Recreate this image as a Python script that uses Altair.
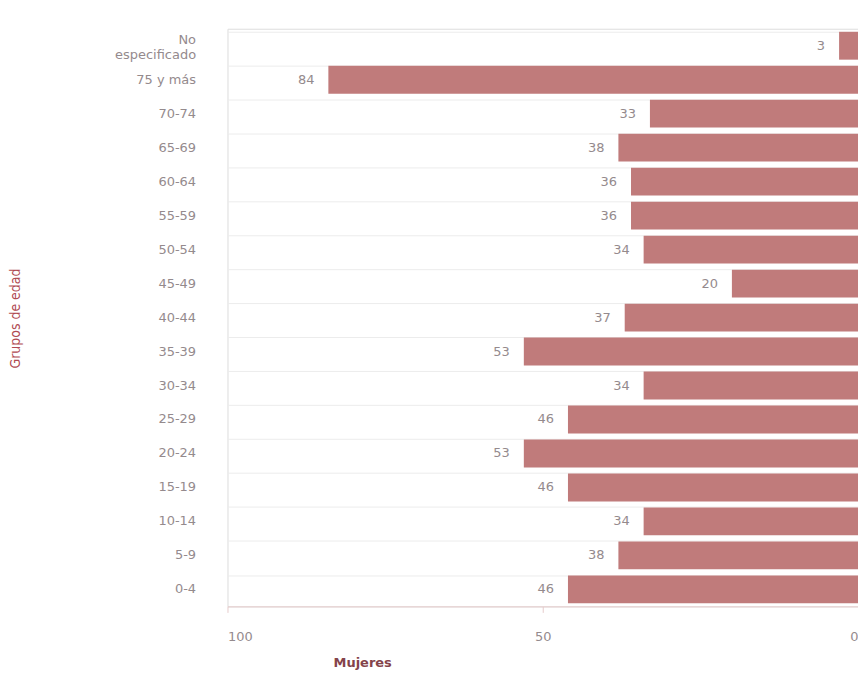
import altair as alt
import pandas as pd

grupos = ["No especificado", "75 y más", "70-74", "65-69", "60-64", "55-59", "50-54",
          "45-49", "40-44", "35-39", "30-34", "25-29", "20-24", "15-19", "10-14", "5-9", "0-4"]
mujeres = [3, 84, 33, 38, 36, 36, 34, 20, 37, 53, 34, 46, 53, 46, 34, 38, 46]
x_ticks = [100, 50, 0]

df = pd.DataFrame({"grupo": grupos, "mujeres": mujeres})

FONT = "DejaVu Sans"
NARROW = "'DejaVu Sans Condensed', 'Liberation Sans Narrow', 'Roboto Condensed', sans-serif"
BAR = "#c07b7b"

y_enc = alt.Y(
    "grupo:N", sort=grupos, title="Grupos de edad",
    scale=alt.Scale(paddingInner=0.18, paddingOuter=0.09),
    axis=alt.Axis(
        ticks=False, domain=False, grid=True, bandPosition=0,
        gridColor="#ececec", gridWidth=1,
        labelFont=FONT, labelFontSize=13, labelColor="#948a8d", labelPadding=32,
        labelExpr="datum.label == 'No especificado' ? ['No', 'especificado'] : datum.label",
        labelLineHeight=15,
        labelOffset={"condition": {"test": "datum.value == 'No especificado'", "value": -6}, "value": 0},
        titleFont=NARROW, titleFontSize=14, titleFontWeight="normal",
        titleColor="#b04a52", titleAngle=-90, titleX=-212, titleY=290,
        titleAlign="center", titleBaseline="middle",
    ),
)

x_enc = alt.X(
    "mujeres:Q", title="Mujeres",
    scale=alt.Scale(domain=[0, 100], reverse=True, nice=False),
    axis=alt.Axis(
        values=x_ticks, grid=False, domainColor="#e6cccc", tickColor="#e6cccc",
        tickSize=6, labelFont=FONT, labelFontSize=13, labelColor="#948a8d",
        labelPadding=18,
        titleFont=FONT, titleFontSize=13, titleFontWeight="bold", titleColor="#84434a",
        titleX=135, titleY=56, titleAlign="center", titleBaseline="middle",
    ),
)

bars = alt.Chart(df).mark_bar(color=BAR).encode(y=y_enc, x=x_enc)

labels = alt.Chart(df).mark_text(
    align="right", baseline="middle", dx=-14, font=FONT, fontSize=13, color="#948a8d"
).encode(
    y=alt.Y("grupo:N", sort=grupos),
    x=alt.X("mujeres:Q", scale=alt.Scale(domain=[0, 100], reverse=True, nice=False)),
    text="mujeres:Q",
)

chart = (bars + labels).properties(
    width=632, height=579,
    autosize=alt.AutoSizeParams(type="none"),
    padding={"left": 220, "top": 20, "right": 0, "bottom": 70},
).configure_view(stroke=None).configure(background="white")

chart.save("out.html", embed_options={"renderer": "svg", "actions": False})
